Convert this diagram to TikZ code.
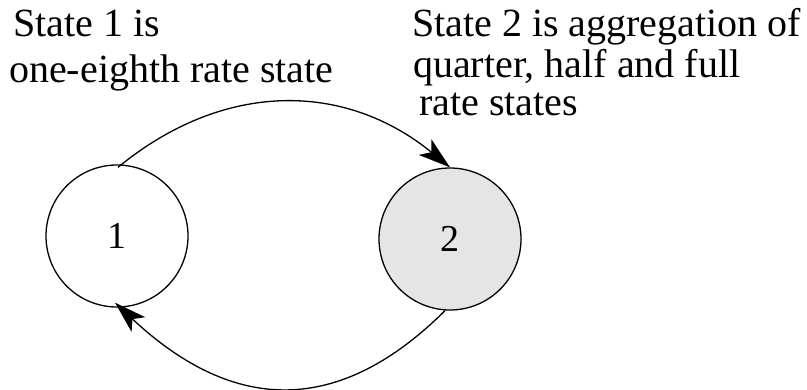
\documentclass[tikz,border=0pt]{standalone}
\usepackage{fontspec}
\setmainfont{Liberation Serif}
\usetikzlibrary{arrows.meta}
\begin{document}
\begin{tikzpicture}[x=1pt,y=-1pt,
  statenode/.style={circle,draw,line width=1.3pt,minimum size=142pt,inner sep=0pt,font=\fontsize{38}{38}\selectfont},
  txt/.style={anchor=base west,inner sep=0pt,font=\fontsize{40}{40}\selectfont},
  conn/.style={line width=1.3pt,-{Stealth[length=32pt,width=20pt,inset=8pt]}}]
\useasboundingbox (0,0) rectangle (807,389);
\node[statenode] (c1) at (117,236) {1};
\node[statenode,fill=black!10] (c2) at (450,239) {2};
\node[txt] (t1) at (13,36) {State 1 is};
\node[txt] (t2) at (9,82) {one-eighth rate state};
\node[txt] (t3) at (412,36) {State 2 is aggregation of};
\node[txt] (t4) at (413,77) {quarter, half and full};
\node[txt] (t5) at (419,115) {rate states};
\draw[conn] ([xshift=1pt,yshift=-3pt]c1.north) .. controls (223,81) and (344,81) .. (c2.north);
\draw[conn] ([xshift=-5pt]c2.south) .. controls (340,415) and (235,415) .. ([xshift=-2pt,yshift=5pt]c1.south);
\end{tikzpicture}
\end{document}
